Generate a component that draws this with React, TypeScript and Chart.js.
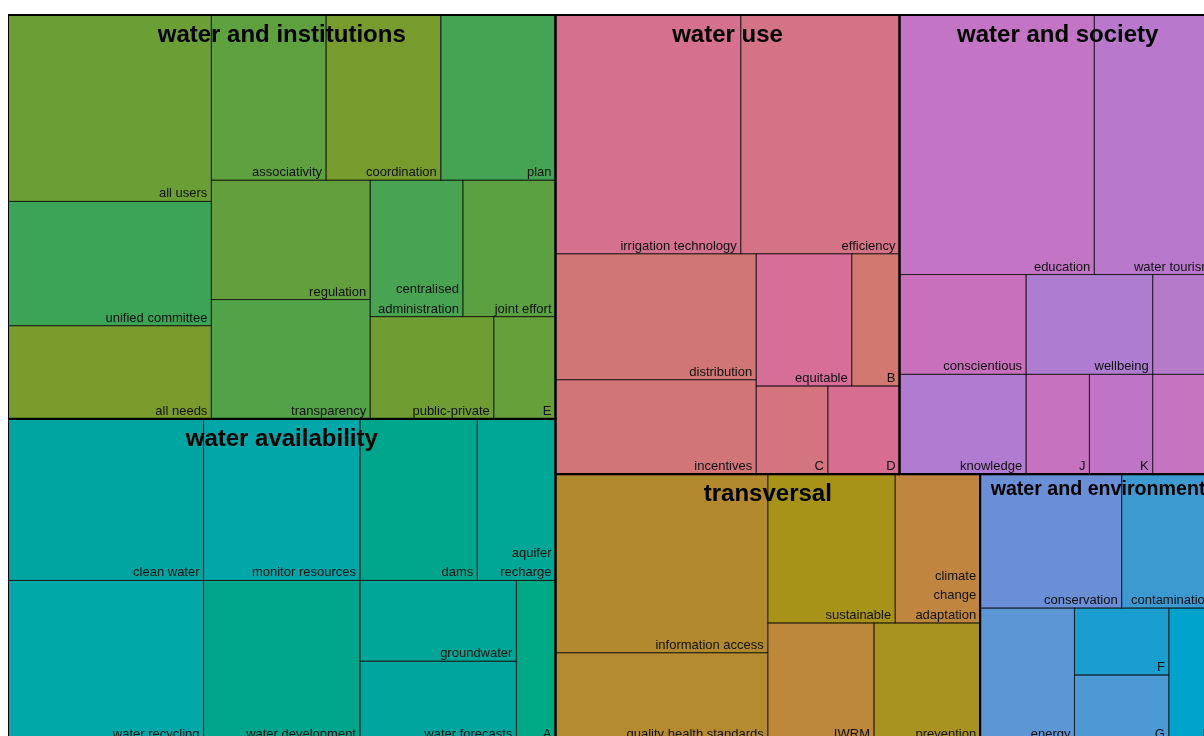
import React, { useEffect, useRef } from "react";
import { Chart, registerables } from "chart.js";

Chart.register(...registerables);

// ---------------- data ----------------
const groupNames = [
  "water and institutions",
  "water availability",
  "water use",
  "water and society",
  "transversal",
  "water and environment",
];

const institutionsLabels = [
  "all users", "unified committee", "all needs", "associativity", "coordination", "plan",
  "regulation", "transparency", "centralised administration", "joint effort", "public-private", "E",
];
const institutionsValues = [6, 4, 3, 3, 3, 3, 3, 3, 2, 2, 2, 1];

const availabilityLabels = [
  "clean water", "water recycling", "monitor resources", "water development", "dams",
  "aquifer recharge", "groundwater", "water forecasts", "A",
];
const availabilityValues = [5, 5, 4, 4, 3, 2, 2, 2, 1];

const useLabels = [
  "irrigation technology", "efficiency", "distribution", "incentives", "equitable", "B", "C", "D",
];
const useValues = [7, 6, 4, 3, 2, 1, 1, 1];

const societyLabels = [
  "education", "water tourism", "conscientious", "knowledge", "wellbeing", "I", "J", "K", "L",
];
const societyValues = [8, 5, 2, 2, 2, 1, 1, 1, 1];

const transversalLabels = [
  "information access", "quality health standards", "sustainable",
  "climate change adaptation", "IWRM", "prevention",
];
const transversalValues = [6, 3, 3, 2, 2, 2];

const environmentLabels = ["conservation", "contamination", "energy", "F", "G", "H"];
const environmentValues = [3, 2, 2, 1, 1, 1];

// ---------------- styles (fill colours per cell) ----------------
const institutionsColors = [
  "#6b9e34", "#3ca456", "#789b2c", "#5fa13f", "#779c2d", "#45a454",
  "#639f3c", "#52a248", "#48a452", "#5ba142", "#709d31", "#66a03a",
];
const availabilityColors = [
  "#00a5a2", "#00a8a8", "#00a6a8", "#00a68c", "#00a68c", "#00a696", "#00a697", "#00a59e", "#00a986",
];
const useColors = [
  "#d6708f", "#d47386", "#d17676", "#d27578", "#d76e98", "#d27870", "#d3747f", "#d76e92",
];
const societyColors = [
  "#c474c4", "#b878cc", "#c870bc", "#b07bd0", "#ae7cd0", "#b67acb", "#c672be", "#c074c8", "#c673c0",
];
const transversalColors = ["#b28a2d", "#b58b2f", "#a69318", "#c0863f", "#bd8839", "#a89320"];
const environmentColors = ["#6a8fd7", "#3d9ad0", "#5c96d4", "#1a9ecf", "#4d99d4", "#00a3cc"];

const groupLabels = [institutionsLabels, availabilityLabels, useLabels, societyLabels, transversalLabels, environmentLabels];
const groupValues = [institutionsValues, availabilityValues, useValues, societyValues, transversalValues, environmentValues];
const groupColors = [institutionsColors, availabilityColors, useColors, societyColors, transversalColors, environmentColors];

// ---------------- layout ----------------
type Rect = { x: number; y: number; w: number; h: number };
type Node = { name: string; value: number; color: string };

function sortNodes<T extends { name: string; value: number }>(items: T[]): T[] {
  return [...items].sort((a, b) => {
    if (b.value !== a.value) return b.value - a.value;
    const an = a.name.toLowerCase();
    const bn = b.name.toLowerCase();
    return an < bn ? -1 : an > bn ? 1 : 0;
  });
}

function squarify(values: number[], r: Rect): Rect[] {
  let { x, y, w, h } = r;
  const total = values.reduce((s, v) => s + v, 0);
  const scale = (w * h) / total;
  const areas = values.map((v) => v * scale);
  const out: Rect[] = [];
  let i = 0;
  while (i < areas.length) {
    const vertical = w >= h;
    const side = vertical ? h : w;
    const firstAspect = (s: number) => {
      const thick = s / side;
      const len = areas[i] / thick;
      return Math.max(thick / len, len / thick);
    };
    let rowSum = areas[i];
    let end = i + 1;
    let best = firstAspect(rowSum);
    while (end < areas.length) {
      const a = firstAspect(rowSum + areas[end]);
      if (a <= best) {
        best = a;
        rowSum += areas[end];
        end++;
      } else break;
    }
    const thick = rowSum / side;
    let off = 0;
    for (let k = i; k < end; k++) {
      const len = areas[k] / thick;
      if (vertical) out.push({ x, y: y + off, w: thick, h: len });
      else out.push({ x: x + off, y, w: len, h: thick });
      off += len;
    }
    if (vertical) { x += thick; w -= thick; } else { y += thick; h -= thick; }
    i = end;
  }
  return out;
}

const FONT = '"Liberation Sans", Arial, Helvetica, sans-serif';

function wrapText(ctx: CanvasRenderingContext2D, text: string, maxW: number): string[] {
  if (ctx.measureText(text).width <= maxW) return [text];
  const words = text.split(" ");
  const lines: string[] = [];
  let cur = "";
  for (const wd of words) {
    const test = cur ? cur + " " + wd : wd;
    if (!cur || ctx.measureText(test).width <= maxW) cur = test;
    else { lines.push(cur); cur = wd; }
  }
  if (cur) lines.push(cur);
  return lines;
}

const treemapPlugin = {
  id: "treemapCells",
  afterDatasetsDraw(chart: any) {
    const { ctx, chartArea, scales } = chart;
    const xs = scales.x;
    const ys = scales.y;
    const A = chartArea.width / chartArea.height;
    const px = (v: number) => xs.getPixelForValue(v / A);
    const py = (v: number) => ys.getPixelForValue(v);

    const groups = sortNodes(
      groupNames.map((name, gi) => ({
        name,
        gi,
        value: groupValues[gi].reduce((s, v) => s + v, 0),
      }))
    );
    const groupRects = squarify(groups.map((g) => g.value), { x: 0, y: 0, w: A, h: 1 });

    const cells: { node: Node; r: Rect }[] = [];
    groups.forEach((g, k) => {
      const nodes: Node[] = groupLabels[g.gi].map((name, j) => ({
        name,
        value: groupValues[g.gi][j],
        color: groupColors[g.gi][j],
      }));
      const sorted = sortNodes(nodes);
      const rects = squarify(sorted.map((n) => n.value), groupRects[k]);
      sorted.forEach((n, j) => cells.push({ node: n, r: rects[j] }));
    });

    const toPix = (r: Rect) => {
      const x1 = px(r.x), x2 = px(r.x + r.w);
      const y1 = py(r.y), y2 = py(r.y + r.h);
      return { x1, x2, y1, y2 };
    };

    ctx.save();
    for (const c of cells) {
      const p = toPix(c.r);
      ctx.fillStyle = c.node.color;
      ctx.fillRect(p.x1, p.y1, p.x2 - p.x1, p.y2 - p.y1);
    }
    ctx.strokeStyle = "rgba(0,0,0,0.6)";
    ctx.lineWidth = 1;
    for (const c of cells) {
      const p = toPix(c.r);
      ctx.strokeRect(p.x1, p.y1, p.x2 - p.x1, p.y2 - p.y1);
    }
    ctx.strokeStyle = "#000";
    ctx.lineWidth = 2;
    groups.forEach((g, k) => {
      const p = toPix(groupRects[k]);
      ctx.strokeRect(p.x1, p.y1, p.x2 - p.x1, p.y2 - p.y1);
    });
    ctx.strokeRect(chartArea.left, chartArea.top, chartArea.width, chartArea.height);

    ctx.font = `13px ${FONT}`;
    ctx.fillStyle = "#111";
    ctx.textAlign = "right";
    ctx.textBaseline = "alphabetic";
    for (const c of cells) {
      const p = toPix(c.r);
      const lines = wrapText(ctx, c.node.name, p.x2 - p.x1 - 9);
      const n = lines.length;
      lines.forEach((ln, li) => {
        ctx.fillText(ln, p.x2 - 4, p.y2 - 4 - (n - 1 - li) * 19.5);
      });
    }

    ctx.textAlign = "center";
    ctx.fillStyle = "#000";
    groups.forEach((g, k) => {
      const p = toPix(groupRects[k]);
      let size = 24;
      ctx.font = `bold ${size}px ${FONT}`;
      const tw = ctx.measureText(g.name).width;
      const avail = p.x2 - p.x1 - 21;
      if (tw > avail) {
        size = (size * avail) / tw;
        ctx.font = `bold ${size}px ${FONT}`;
      }
      ctx.fillText(g.name, (p.x1 + p.x2) / 2, p.y1 - 5 + 1.333 * size);
    });
    ctx.restore();
  },
};

export default function App() {
  const ref = useRef<HTMLCanvasElement | null>(null);

  useEffect(() => {
    const html = document.documentElement;
    html.style.overflow = "hidden";
    html.style.width = "1232px";
    document.body.style.width = "1216px";
    document.body.style.height = "742px";
    const canvas = ref.current;
    if (!canvas) return;
    const chart = new Chart(canvas, {
      type: "scatter",
      data: { datasets: [{ data: [], pointRadius: 0 }] },
      options: {
        responsive: false,
        animation: false,
        layout: { padding: { top: 7, left: 0, right: 8, bottom: 8 } },
        plugins: { legend: { display: false }, tooltip: { enabled: false } },
        scales: {
          x: { type: "linear", min: 0, max: 1, display: false },
          y: { type: "linear", min: 0, max: 1, reverse: true, display: false },
        },
      },
      plugins: [treemapPlugin],
    });
    return () => chart.destroy();
  }, []);

  return (
    <div style={{ width: "1216px", height: "742px" }}>
      <canvas
        ref={ref}
        width={1216}
        height={742}
        style={{ display: "block", width: "1216px", height: "742px" }}
      />
    </div>
  );
}
